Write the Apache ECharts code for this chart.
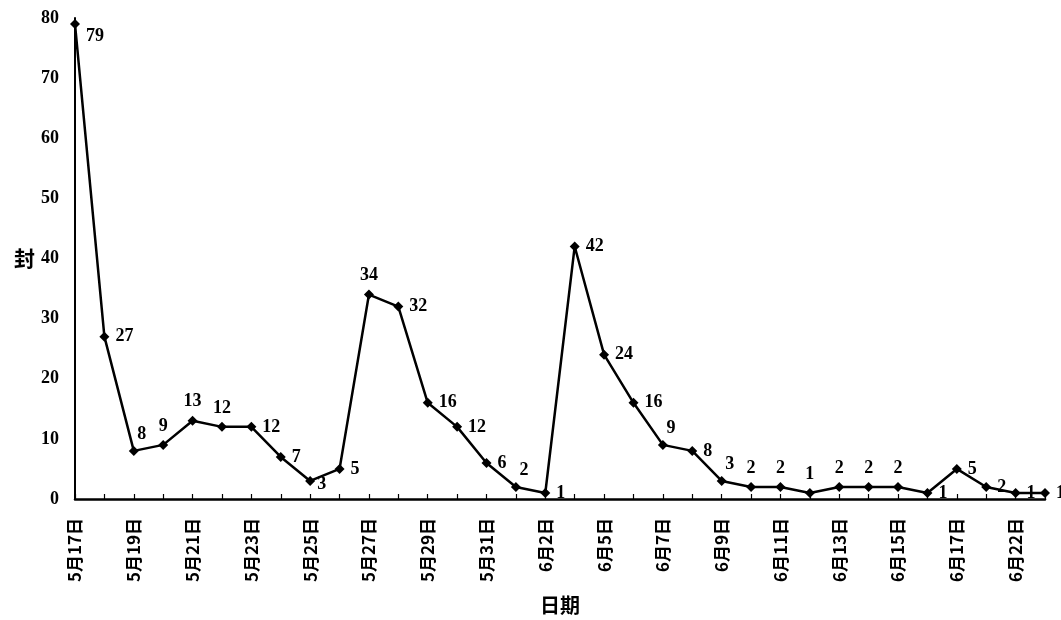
<!DOCTYPE html>
<html><head><meta charset="utf-8">
<script src="https://cdn.jsdelivr.net/npm/echarts@6/dist/echarts.min.js"></script>
<style>html,body{margin:0;padding:0;background:#fff}#c{width:1061px;height:620px}</style>
</head><body><div id="c"></div>
<script>
const categories = ["5月17日","5月18日","5月19日","5月20日","5月21日","5月22日","5月23日","5月24日","5月25日","5月26日","5月27日","5月28日","5月29日","5月30日","5月31日","6月1日","6月2日","6月4日","6月5日","6月6日","6月7日","6月8日","6月9日","6月10日","6月11日","6月12日","6月13日","6月14日","6月15日","6月16日","6月17日","6月18日","6月22日","6月23日"];
const values = [79,27,8,9,13,12,12,7,3,5,34,32,16,12,6,2,1,42,24,16,9,8,3,2,2,1,2,2,2,1,5,2,1,1];
const labelPos = ["rb","right","tr","top","top","top","right","right","br","right","top","right","right","right","right","tr","right","right","right","right","tr","right","tr","top","top","top","top","top","top","right","right","right","right","right"];
const yTicks = [0,10,20,30,40,50,60,70,80];

const serif = '"Liberation Serif", "DejaVu Serif", serif';
const cjk = '"Noto Sans CJK SC", sans-serif';
function lab(p){
  if(p==="top") return {position:"top", distance:5};
  if(p==="tr") return {position:"top", offset:[8,0], distance:3};
  if(p==="rb") return {position:"right", offset:[1,12]};
  if(p==="br") return {position:"right", offset:[-2,3], distance:4};
  return {position:"right", distance:6};
}
const data = values.map((v,i)=>({value:v, label:lab(labelPos[i])}));
const chart = echarts.init(document.getElementById('c'));
chart.setOption({
  animation:false,
  backgroundColor:'#fff',
  grid:{left:75,right:16,top:18,bottom:120},
  xAxis:{type:'category',data:categories,boundaryGap:false,
    name:'日期',nameLocation:'middle',nameGap:96,
    nameTextStyle:{fontFamily:cjk,fontWeight:'bold',fontSize:20,color:'#000',verticalAlign:'top'},
    axisLine:{lineStyle:{color:'#000',width:2.5}},
    axisTick:{inside:true,length:5,interval:0,lineStyle:{color:'#000',width:1.2}},
    axisLabel:{interval:1,rotate:90,margin:19,fontFamily:cjk,fontWeight:'bold',fontSize:17,color:'#000'},
    splitLine:{show:false}},
  yAxis:{type:'value',min:0,max:80,interval:10,
    name:'封',nameLocation:'middle',nameRotate:0,nameGap:39,
    nameTextStyle:{fontFamily:cjk,fontWeight:'bold',fontSize:21,color:'#000'},
    axisLine:{show:true,lineStyle:{color:'#000',width:2}},
    axisTick:{show:false},
    axisLabel:{margin:16,fontFamily:serif,fontWeight:'bold',fontSize:18,color:'#000',
      formatter:v=>yTicks.includes(v)?String(v):''},
    splitLine:{show:false}},
  series:[{type:'line',data:data,symbol:'diamond',symbolSize:10,
    lineStyle:{color:'#000',width:2.5},itemStyle:{color:'#000'},
    label:{show:true,fontFamily:serif,fontWeight:'bold',fontSize:18,color:'#000'}}]
});
</script></body></html>
